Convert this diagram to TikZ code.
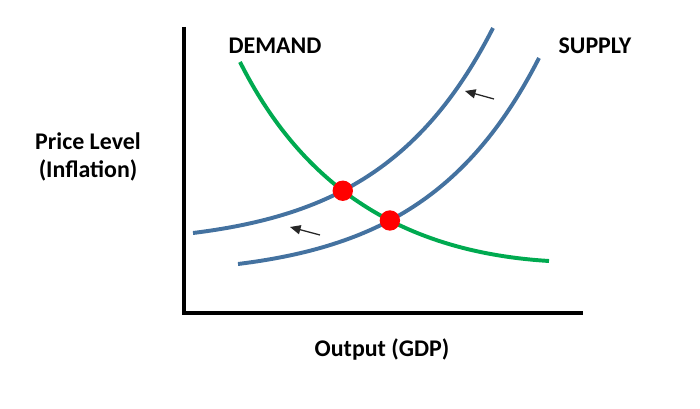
\documentclass[tikz,border=0pt]{standalone}
\usepackage{fontspec}
\setmainfont{Carlito}
\usepackage{tikz}
\usetikzlibrary{arrows.meta,intersections}
\definecolor{supply-blue}{RGB}{68,114,160}
\definecolor{demand-green}{RGB}{0,170,80}
\tikzstyle{axis}=[line width=2.8pt, line join=miter]
\tikzstyle{supplycurve}=[line width=2.8pt, supply-blue]
\tikzstyle{demandcurve}=[line width=2.8pt, demand-green]
\tikzstyle{eqdot}=[circle, fill=red, inner sep=0pt, minimum size=14.5pt]
\tikzstyle{shiftarrow}=[-{Triangle[length=7.5pt,width=6.5pt]}, line width=0.9pt, black!85]
\tikzstyle{lbl}=[font=\fontsize{17}{20}\selectfont\bfseries, align=center]

\begin{document}
\begin{tikzpicture}[x=0.025cm,y=0.025cm]
	\useasboundingbox (0,0) rectangle (700,409);
	\coordinate (O) at (184,96);
	\coordinate (ytop) at (184,382);
	\coordinate (xend) at (583,96);
	\draw[axis] (ytop) -- (O) -- (xend);
	\draw[demandcurve, name path=demand] (240,347) .. controls (295,238) and (385,158) .. (549,148);
	\draw[supplycurve, name path=supplyA] (193,176) .. controls (330,193) and (422,242) .. (493,381);
	\draw[supplycurve, name path=supplyB] (238,145) .. controls (375,162) and (468,212) .. (539,351);
	\path[name intersections={of=demand and supplyA, by=eqA}];
	\path[name intersections={of=demand and supplyB, by=eqB}];
	\node[eqdot] (dotA) at (eqA) {};
	\node[eqdot] (dotB) at (eqB) {};
	\coordinate (arrAs) at (494,310);
	\coordinate (arrAe) at (465,318);
	\coordinate (arrBs) at (320,174);
	\coordinate (arrBe) at (290,182);
	\draw[shiftarrow] (arrAs) -- (arrAe);
	\draw[shiftarrow] (arrBs) -- (arrBe);
	\node[lbl] (demandlbl) at (275,363) {DEMAND};
	\node[lbl] (supplylbl) at (595,363) {SUPPLY};
	\node[lbl] (ylbl) at (88,252) {Price Level\\(Inflation)};
	\node[lbl] (xlbl) at (382,59) {Output (GDP)};
\end{tikzpicture}
\end{document}
